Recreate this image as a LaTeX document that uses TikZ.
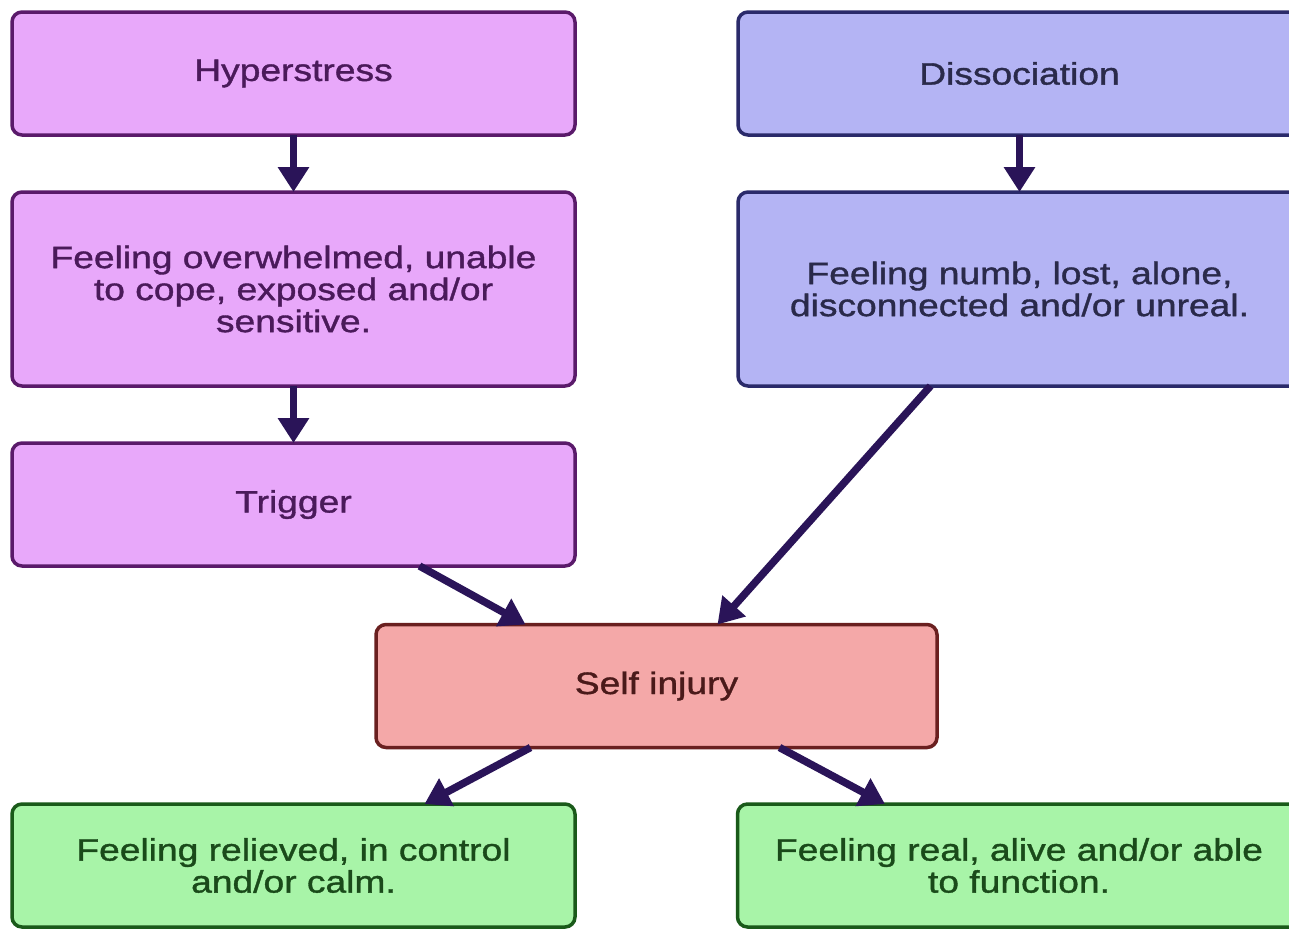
\documentclass[tikz,border=0pt]{standalone}
\usepackage{fontspec}
\newfontfamily\boxfont[FakeStretch=1.2,FakeBold=1.2]{Liberation Sans}
\usepackage{tikz}
\usetikzlibrary{arrows.meta,positioning,calc}
\definecolor{violetfill}{HTML}{E8A8FA}
\definecolor{violetline}{HTML}{5A1A6A}
\definecolor{violettext}{HTML}{4A1A5A}
\definecolor{bluefill}{HTML}{B4B4F4}
\definecolor{blueline}{HTML}{2A2A6A}
\definecolor{bluetext}{HTML}{2A2A4A}
\definecolor{pinkfill}{HTML}{F4A8A8}
\definecolor{pinkline}{HTML}{6A2020}
\definecolor{pinktext}{HTML}{4A1A1A}
\definecolor{greenfill}{HTML}{A8F4A8}
\definecolor{greenline}{HTML}{1A5A1A}
\definecolor{greentext}{HTML}{1A4A1A}
\definecolor{arrowcol}{HTML}{2A1458}
\tikzset{
	stagebox/.style={rectangle, rounded corners=10pt, line width=3.5pt, outer sep=0pt,
		minimum width=563pt, minimum height=123pt, align=center,
		font=\boxfont\fontsize{31}{32}\selectfont, inner sep=4pt},
	hyperbox/.style={stagebox, draw=violetline, fill=violetfill, text=violettext},
	dissbox/.style={stagebox, draw=blueline, fill=bluefill, text=bluetext},
	injbox/.style={stagebox, draw=pinkline, fill=pinkfill, text=pinktext, minimum width=561pt},
	outbox/.style={stagebox, draw=greenline, fill=greenfill, text=greentext},
	flowarr/.style={-{Triangle[length=25pt,width=30pt]}, line width=7.5pt, draw=arrowcol}
}
\begin{document}
\begin{tikzpicture}[node distance=57pt and 163pt]
	\useasboundingbox[fill=white] (0pt,0pt) rectangle (1289pt,-929pt);
	\node[hyperbox] (hyper) at (293.5pt,-73.5pt) {Hyperstress};
	\node[hyperbox, below=of hyper, minimum height=194pt] (overw) {Feeling overwhelmed, unable\\to cope, exposed and/or\\sensitive.};
	\node[hyperbox, below=of overw] (trig) {Trigger};
	\node[dissbox, right=of hyper] (diss) {Dissociation};
	\node[dissbox, below=of diss, minimum height=194pt] (numb) {Feeling numb, lost, alone,\\disconnected and/or unreal.};
	\node[injbox] (self) at (656.5pt,-686pt) {Self injury};
	\node[outbox] (relief) at (293.5pt,-865.5pt) {Feeling relieved, in control\\and/or calm.};
	\node[outbox] (real) at (1019pt,-865.5pt) {Feeling real, alive and/or able\\to function.};
	% connectors
	\draw[flowarr] (hyper)--(overw);
	\draw[flowarr] (overw)--(trig);
	\draw[flowarr] (diss)--(numb);
	\draw[flowarr] ([xshift=126pt]trig.south)--([xshift=-131pt]self.north);
	\draw[flowarr] ([xshift=-89pt]numb.south)--([xshift=61pt]self.north);
	\draw[flowarr] ([xshift=-126pt]self.south)--([xshift=131pt]relief.north);
	\draw[flowarr] ([xshift=123pt]self.south)--([xshift=-134pt]real.north);
\end{tikzpicture}
\end{document}
